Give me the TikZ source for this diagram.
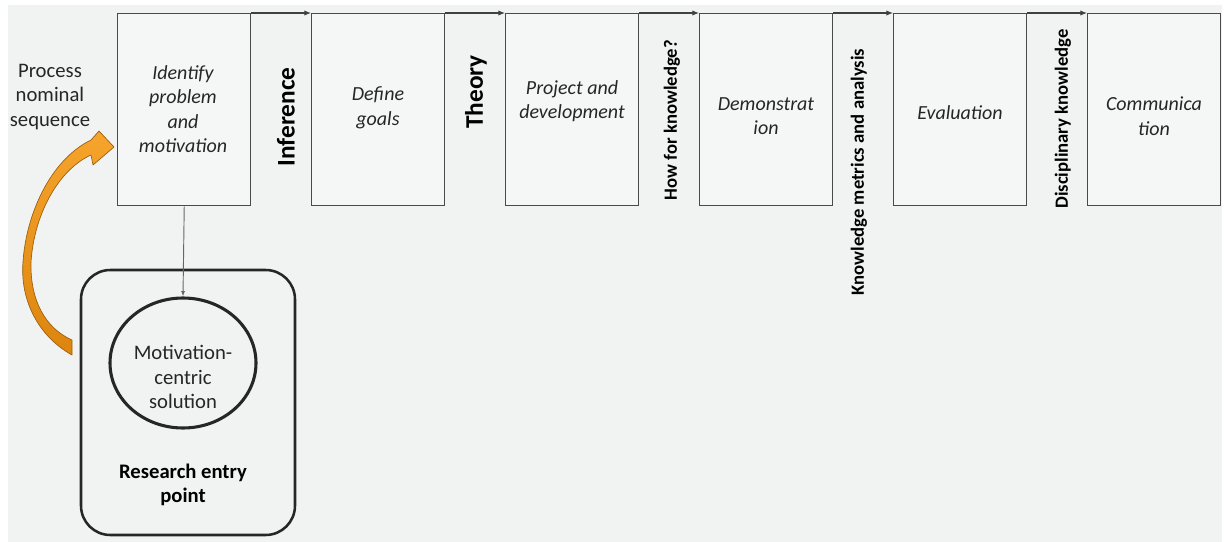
\documentclass[tikz,border=0pt]{standalone}
\usepackage{fontspec}
\setmainfont{Carlito}
\usetikzlibrary{arrows.meta,shapes.geometric}
\definecolor{panel}{HTML}{F1F3F3}
\definecolor{boxfill}{HTML}{F5F6F6}
\definecolor{frame}{HTML}{4A4A4A}
\definecolor{orangetop}{HTML}{F6A42C}
\definecolor{orangebottom}{HTML}{DD850E}
\definecolor{orangeedge}{HTML}{9A5E0C}

\begin{document}
\begin{tikzpicture}[x=0.75pt,y=-0.75pt,
  stepbox/.style={draw=frame,line width=1.1pt,fill=boxfill,minimum width=99.75pt,
    minimum height=144pt,inner sep=0pt,anchor=north west},
  steptext/.style={font=\fontsize{15}{18.4}\selectfont\itshape,text=black!85,align=center,inner sep=0pt},
  sidelabel/.style={rotate=90,font=\fontsize{14}{16}\selectfont\bfseries,inner sep=0pt},
  biglabel/.style={rotate=90,font=\fontsize{19}{22}\selectfont\bfseries,inner sep=0pt},
  plain/.style={font=\fontsize{15.5}{18.4}\selectfont,text=black!85,align=center,inner sep=0pt},
  flow/.style={draw=black!75,line width=0.8pt,-{Latex[length=5pt,width=4pt]}},
  ]
\useasboundingbox (0,0) rectangle (1228,542);
\fill[panel] (8,5) rectangle (1222,542);

% process steps
\node[stepbox] (b1) at (117,13) {};
\node[stepbox] (b2) at (311,13) {};
\node[stepbox] (b3) at (505,13) {};
\node[stepbox] (b4) at (699,13) {};
\node[stepbox] (b5) at (893,13) {};
\node[stepbox] (b6) at (1087,13) {};

\node[steptext] (t1) at (183,109) {Identify\\problem\\and\\motivation};
\node[steptext] (t2) at (378,108) {Define\\goals};
\node[steptext] (t3) at (572,101) {Project and\\development};
\node[steptext] (t4) at (766,116) {Demonstrat\\ion};
\node[steptext] (t5) at (960,113) {Evaluation};
\node[steptext] (t6) at (1154,116) {Communica\\tion};

% sequence along the top edge
\draw[flow] (b1.north east) -- (b2.north west);
\draw[flow] (b2.north east) -- (b3.north west);
\draw[flow] (b3.north east) -- (b4.north west);
\draw[flow] (b4.north east) -- (b5.north west);
\draw[flow] (b5.north east) -- (b6.north west);

% labels between the steps
\node[biglabel] (inf) at (286,117) {Inference};
\node[biglabel] (theo) at (476,92) {Theory};
\node[sidelabel] (howk) at (672,120) {How for knowledge?};
\node[sidelabel] (kma) at (859,172) {Knowledge metrics and analysis};
\node[sidelabel] (disc) at (1063,119) {Disciplinary knowledge};

\node[plain] (pns) at (50,97) {Process\\nominal\\sequence};

% research entry point
\node[draw=black!85,line width=1.9pt,rounded corners=22pt,minimum width=160.5pt,
  minimum height=198.75pt,inner sep=0pt] (rep) at (188,402.5) {};
\node[draw=black!85,line width=2.3pt,ellipse,minimum width=109.5pt,minimum height=97.5pt,
  inner sep=0pt] (mc) at (183,363) {};
\node[plain] (mctext) at (183,377) {Motivation-\\centric\\solution};
\node[plain,font=\fontsize{15.5}{18.4}\selectfont\bfseries,text=black] (reptext) at (183,485) {Research entry\\point};

\draw[draw=black!60,line width=0.7pt,-{Latex[length=4pt,width=3pt]}] (b1.south) -- (mc.north);

% curved orange arrow
\shade[top color=orangetop,bottom color=orangebottom,draw=orangeedge,line width=0.5pt,line join=round]
  (72,355) .. controls (38,336) and (20,300) .. (23,262)
  .. controls (26,215) and (50,160) .. (91,140)
  -- (99,131) -- (114,147) -- (93,165) -- (91,155)
  .. controls (58,170) and (34,215) .. (31,262)
  .. controls (30,300) and (45,328) .. (72,340) -- cycle;
\end{tikzpicture}
\end{document}
